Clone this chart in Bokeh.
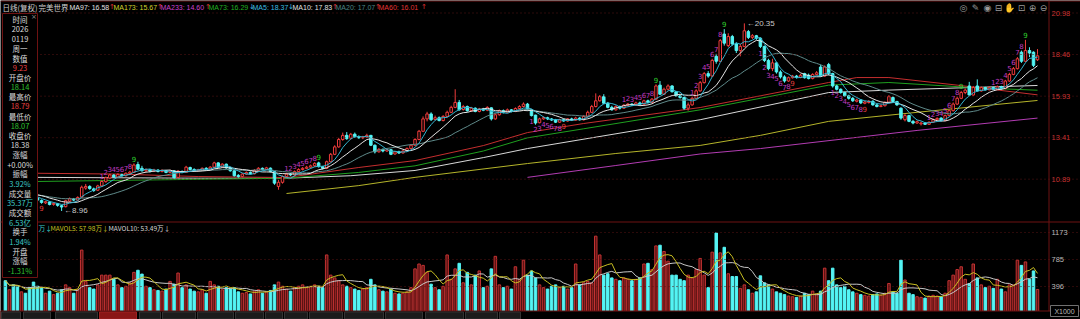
import numpy as np
import pandas as pd
from bokeh.plotting import figure
from bokeh.models import Range1d, Label, Span, BoxAnnotation, ColumnDataSource
from bokeh.core.properties import value
from bokeh.embed import file_html
from bokeh.resources import INLINE

# ---------------- data (daily bars, oldest first) ----------------
opens = [
    10.30, 10.12, 10.20, 10.05, 9.95, 10.00, 9.90, 9.82,
    9.75, 9.60, 9.45, 9.50, 9.36, 9.40, 9.28, 9.22, 9.56, 9.68,
    9.62, 9.80, 10.35, 10.45, 10.30, 10.22, 10.48, 10.74, 10.96, 11.14,
    11.02, 11.16, 11.10, 11.24, 11.30, 11.78, 11.55, 11.40, 11.46, 11.38,
    11.44, 11.36, 11.40, 11.30, 11.40, 11.00, 11.36, 11.30, 11.60, 11.48,
    11.40, 11.44, 11.55, 11.50, 11.62, 11.88, 11.64, 11.80, 11.58, 11.40,
    11.12, 11.06, 11.20, 11.30, 11.22, 11.42, 11.55, 11.48, 11.56, 11.35,
    10.45, 10.70, 11.05, 11.20, 11.15, 11.35, 11.48, 11.55, 11.62, 11.70,
    11.88, 11.65, 11.55, 11.95, 12.40, 12.85, 13.30, 13.55, 13.38, 13.62,
    13.48, 13.40, 13.45, 13.55, 12.95, 12.55, 12.70, 12.60, 12.68, 12.42,
    12.55, 12.48, 12.60, 12.75, 12.95, 13.30, 13.80, 14.55, 14.85, 14.52,
    14.62, 14.45, 14.70, 14.95, 15.25, 15.55, 15.12, 15.30, 15.05, 15.20,
    15.00, 15.15, 15.08, 15.22, 14.55, 14.80, 15.05, 14.95, 15.10, 15.00,
    15.18, 15.30, 15.45, 15.12, 14.78, 14.32, 14.55, 14.62, 14.55, 14.48,
    14.35, 14.50, 14.42, 14.55, 14.48, 14.60, 14.50, 14.70, 14.95, 15.30,
    15.65, 15.90, 15.50, 15.25, 15.10, 15.30, 15.20, 15.38, 15.45, 15.40,
    15.52, 15.45, 15.65, 15.55, 15.75, 16.60, 16.05, 16.35, 16.55, 16.20,
    15.95, 15.85, 15.20, 15.40, 15.80, 16.25, 16.75, 17.30, 17.15, 18.35,
    18.05, 19.70, 19.00, 19.55, 19.10, 18.70, 18.95, 19.85, 19.50, 19.60,
    19.45, 18.95, 18.10, 17.60, 17.95, 17.40, 17.10, 16.85, 17.05, 17.15,
    17.08, 17.30, 17.20, 17.00, 17.25, 17.70, 17.15, 17.85, 17.30, 16.55,
    16.35, 16.15, 15.95, 15.80, 15.62, 15.70, 15.50, 15.55, 15.62, 15.40,
    15.30, 15.35, 15.55, 15.85, 15.60, 15.20, 14.50, 14.75, 14.40, 14.30,
    14.25, 14.30, 14.22, 14.35, 14.50, 14.60, 14.45, 14.75, 15.05, 15.45,
    15.80, 16.15, 16.55, 16.00, 16.55, 16.25, 16.45, 16.32, 16.45, 16.35,
    16.50, 16.40, 16.85, 17.25, 17.60, 18.60, 18.05, 18.70, 18.60, 18.14,
]
closes = [
    10.15, 10.20, 10.05, 9.95, 10.00, 9.90, 9.82, 9.74,
    9.62, 9.48, 9.52, 9.35, 9.42, 9.30, 9.20, 9.58, 9.70, 9.62,
    9.78, 10.40, 10.45, 10.32, 10.20, 10.48, 10.75, 10.98, 11.15, 11.02,
    11.18, 11.10, 11.25, 11.32, 11.75, 11.50, 11.40, 11.48, 11.38, 11.45,
    11.36, 11.42, 11.30, 11.40, 10.98, 11.38, 11.32, 11.62, 11.48, 11.40,
    11.45, 11.55, 11.50, 11.62, 11.88, 11.62, 11.80, 11.58, 11.40, 11.10,
    11.05, 11.20, 11.30, 11.22, 11.42, 11.55, 11.48, 11.58, 11.35, 10.65,
    10.70, 11.05, 11.20, 11.15, 11.35, 11.48, 11.55, 11.62, 11.70, 11.85,
    11.65, 11.55, 11.95, 12.40, 12.85, 13.30, 13.55, 13.35, 13.62, 13.48,
    13.40, 13.45, 13.55, 12.95, 12.55, 12.70, 12.60, 12.68, 12.40, 12.55,
    12.48, 12.60, 12.75, 12.95, 13.30, 13.80, 14.55, 14.85, 14.50, 14.62,
    14.45, 14.70, 14.95, 15.25, 15.55, 15.10, 15.30, 15.05, 15.20, 15.00,
    15.15, 15.08, 15.25, 14.55, 14.80, 15.05, 14.95, 15.10, 15.00, 15.18,
    15.30, 15.45, 15.12, 14.75, 14.30, 14.55, 14.62, 14.55, 14.48, 14.35,
    14.50, 14.42, 14.55, 14.48, 14.60, 14.50, 14.70, 14.95, 15.30, 15.65,
    15.90, 15.50, 15.25, 15.10, 15.30, 15.20, 15.38, 15.45, 15.40, 15.52,
    15.45, 15.65, 15.55, 15.75, 16.55, 16.05, 16.35, 16.55, 16.20, 15.95,
    15.85, 15.20, 15.40, 15.80, 16.25, 16.75, 17.30, 17.15, 18.10, 18.05,
    19.30, 19.15, 19.55, 19.10, 18.70, 18.95, 19.90, 19.50, 19.60, 19.45,
    18.95, 18.10, 17.60, 17.95, 17.40, 17.10, 16.85, 17.05, 17.15, 17.08,
    17.20, 17.05, 17.00, 17.25, 17.35, 17.15, 17.70, 17.30, 16.55, 16.35,
    16.15, 15.95, 15.80, 15.65, 15.70, 15.52, 15.58, 15.62, 15.40, 15.30,
    15.35, 15.55, 15.90, 15.60, 15.40, 14.60, 14.75, 14.40, 14.30, 14.38,
    14.30, 14.22, 14.35, 14.50, 14.58, 14.45, 14.75, 15.05, 15.45, 15.80,
    16.15, 16.30, 16.00, 16.45, 16.25, 16.45, 16.32, 16.45, 16.35, 16.50,
    16.40, 16.85, 17.25, 17.60, 18.20, 18.05, 18.70, 18.55, 17.80, 18.38,
]
highs = [
    10.35, 10.26, 10.24, 10.10, 10.05, 10.04, 9.95, 9.86,
    9.85, 9.66, 9.58, 9.55, 9.48, 9.45, 9.32, 9.64, 9.78, 9.75,
    9.85, 10.50, 10.60, 10.52, 10.38, 10.55, 10.82, 11.05, 11.22, 11.20,
    11.25, 11.22, 11.30, 11.40, 11.85, 11.95, 11.70, 11.55, 11.52, 11.52,
    11.50, 11.48, 11.45, 11.46, 11.44, 11.45, 11.42, 11.70, 11.65, 11.55,
    11.52, 11.60, 11.62, 11.68, 11.95, 11.92, 11.86, 11.84, 11.62, 11.44,
    11.20, 11.26, 11.36, 11.36, 11.50, 11.62, 11.60, 11.64, 11.60, 11.38,
    10.85, 11.12, 11.28, 11.26, 11.42, 11.55, 11.62, 11.70, 11.78, 11.92,
    11.95, 11.70, 12.02, 12.48, 12.95, 13.40, 13.72, 13.75, 13.70, 13.72,
    13.55, 13.52, 13.65, 13.58, 13.00, 12.78, 12.75, 12.74, 12.72, 12.60,
    12.62, 12.66, 12.82, 13.02, 13.38, 13.88, 14.70, 14.98, 14.95, 14.75,
    14.70, 14.78, 15.05, 15.35, 16.35, 15.70, 15.40, 15.36, 15.28, 15.25,
    15.22, 15.22, 15.32, 15.25, 14.88, 15.12, 15.12, 15.18, 15.15, 15.25,
    15.38, 15.55, 15.52, 15.15, 14.80, 14.62, 14.70, 14.68, 14.60, 14.55,
    14.56, 14.56, 14.60, 14.62, 14.68, 14.66, 14.78, 15.05, 15.40, 16.10,
    16.00, 16.05, 15.58, 15.35, 15.38, 15.36, 15.45, 15.52, 15.50, 15.60,
    15.60, 15.72, 15.72, 15.82, 16.65, 16.85, 16.45, 16.65, 16.60, 16.25,
    16.02, 15.90, 15.55, 15.90, 16.35, 16.85, 17.40, 17.45, 18.20, 18.50,
    19.40, 20.00, 19.75, 19.65, 19.20, 19.10, 20.35, 19.95, 19.70, 19.65,
    19.50, 19.00, 18.20, 18.20, 18.00, 17.50, 17.20, 17.12, 17.22, 17.22,
    17.28, 17.35, 17.30, 17.32, 17.45, 17.85, 17.80, 17.95, 17.35, 16.62,
    16.40, 16.20, 16.02, 15.88, 15.78, 15.75, 15.65, 15.70, 15.68, 15.48,
    15.42, 15.62, 16.00, 15.92, 15.65, 15.25, 14.85, 14.80, 14.48, 14.45,
    14.38, 14.35, 14.40, 14.58, 14.65, 14.65, 14.82, 15.12, 15.55, 15.90,
    16.25, 16.40, 16.80, 16.55, 16.95, 16.52, 16.50, 16.52, 16.50, 16.58,
    16.56, 16.92, 17.35, 17.70, 18.30, 18.70, 19.35, 18.90, 18.65, 18.79,
]
lows = [
    10.10, 10.05, 10.00, 9.90, 9.88, 9.85, 9.78, 9.70,
    9.55, 9.40, 9.38, 9.30, 9.28, 9.22, 8.96, 9.18, 9.50, 9.55,
    9.58, 9.76, 10.25, 10.25, 10.12, 10.18, 10.42, 10.68, 10.90, 10.95,
    10.98, 11.04, 11.05, 11.18, 11.28, 11.45, 11.35, 11.32, 11.30, 11.33,
    11.30, 11.30, 11.25, 11.26, 10.92, 10.98, 11.26, 11.28, 11.42, 11.35,
    11.36, 11.40, 11.45, 11.46, 11.58, 11.58, 11.60, 11.52, 11.35, 11.05,
    10.98, 11.00, 11.15, 11.18, 11.18, 11.38, 11.42, 11.44, 11.30, 10.55,
    10.25, 10.62, 11.00, 11.08, 11.10, 11.30, 11.42, 11.50, 11.55, 11.64,
    11.60, 11.48, 11.50, 11.90, 12.35, 12.80, 13.22, 13.28, 13.30, 13.40,
    13.35, 13.32, 13.40, 12.90, 12.45, 12.50, 12.52, 12.55, 12.35, 12.38,
    12.42, 12.44, 12.55, 12.70, 12.90, 13.25, 13.75, 14.40, 14.42, 14.45,
    14.40, 14.40, 14.65, 14.90, 15.20, 15.05, 15.05, 14.98, 14.98, 14.95,
    14.95, 15.02, 15.02, 14.45, 14.50, 14.75, 14.88, 14.90, 14.95, 14.96,
    15.12, 15.25, 15.05, 14.70, 14.20, 14.28, 14.50, 14.48, 14.42, 14.30,
    14.30, 14.38, 14.38, 14.42, 14.44, 14.45, 14.45, 14.65, 14.90, 15.25,
    15.60, 15.45, 15.20, 15.05, 15.05, 15.12, 15.15, 15.32, 15.35, 15.36,
    15.40, 15.40, 15.50, 15.50, 15.70, 16.00, 16.00, 16.28, 16.15, 15.90,
    15.78, 15.10, 15.05, 15.35, 15.75, 16.20, 16.70, 17.05, 17.10, 17.90,
    18.00, 19.00, 18.90, 19.00, 18.55, 18.35, 18.90, 19.40, 19.40, 19.35,
    18.85, 18.00, 17.50, 17.45, 17.30, 17.00, 16.75, 16.80, 17.00, 17.00,
    17.02, 17.00, 16.95, 16.95, 17.20, 17.10, 17.10, 17.20, 16.45, 16.28,
    16.08, 15.90, 15.72, 15.58, 15.55, 15.45, 15.44, 15.48, 15.35, 15.25,
    15.26, 15.30, 15.50, 15.52, 15.35, 14.50, 14.40, 14.35, 14.22, 14.25,
    14.15, 14.18, 14.18, 14.30, 14.45, 14.40, 14.42, 14.70, 15.00, 15.40,
    15.75, 16.05, 15.95, 15.95, 16.20, 16.20, 16.28, 16.28, 16.30, 16.30,
    16.32, 16.35, 16.80, 17.20, 17.55, 17.95, 18.00, 18.30, 17.70, 18.07,
]
volumes = [  # x1000
    480, 350, 420, 400, 320, 300, 380, 460,
    400, 380, 300, 330, 280, 300, 350, 420, 380, 300,
    350, 920, 470, 380, 360, 420, 560, 560, 560, 500,
    420, 380, 400, 450, 600, 630, 575, 400, 380, 350,
    340, 330, 360, 470, 430, 590, 380, 420, 360, 330,
    320, 350, 300, 470, 420, 400, 350, 380, 360, 380,
    320, 300, 310, 290, 330, 350, 300, 320, 340, 420,
    460, 400, 360, 330, 380, 400, 420, 380, 400, 420,
    400, 380, 850, 560, 520, 480, 420, 400, 380, 360,
    340, 360, 380, 500, 420, 350, 330, 320, 360, 300,
    290, 300, 320, 380, 650, 720, 700, 600, 430, 380,
    350, 400, 850, 500, 650, 730, 450, 600, 420, 560,
    620, 380, 400, 650, 830, 420, 380, 400, 360, 680,
    500, 775, 560, 620, 520, 420, 380, 360, 400, 420,
    380, 400, 360, 380, 720, 420, 450, 470, 450, 1120,
    850, 560, 580, 520, 500, 480, 520, 500, 480, 500,
    520, 720, 730, 640, 980, 990, 900, 760, 560, 560,
    500, 480, 560, 520, 640, 800, 560, 380, 890, 1165,
    880, 960, 580, 540, 540, 370, 420, 350, 300, 320,
    550, 450, 420, 360, 320, 300, 280, 260, 250, 240,
    260, 300, 280, 330, 290, 330, 660, 480, 660, 420,
    380, 400, 350, 320, 300, 280, 270, 260, 280, 290,
    270, 300, 440, 320, 300, 775, 490, 300, 280, 250,
    240, 230, 260, 270, 260, 250, 300, 480, 560, 640,
    680, 500, 440, 720, 520, 420, 380, 400, 370, 500,
    360, 320, 420, 420, 775, 700, 750, 500, 620, 354,
]

# long moving averages (bar number, value)
ma60_bars = [0, 8, 28, 48, 70, 88, 102, 119, 130, 144, 173, 205, 212, 220, 237, 257]
ma60_vals = [11.28, 11.25, 11.20, 11.05, 10.99, 11.60, 12.02, 12.93, 13.72, 14.27, 15.24, 16.76, 17.06, 17.06, 16.60, 16.01]
ma73_bars = [0, 8, 38, 70, 88, 102, 119, 130, 144, 173, 205, 220, 241, 257]
ma73_vals = [10.72, 10.75, 10.85, 10.95, 11.30, 11.70, 12.60, 13.40, 13.95, 15.10, 16.60, 16.76, 16.45, 16.29]
ma97_bars = [0, 8, 48, 70, 86, 102, 119, 130, 173, 205, 220, 257]
ma97_vals = [11.00, 11.00, 10.95, 10.95, 11.10, 11.42, 12.20, 12.75, 14.50, 16.15, 16.30, 16.58]
ma173_bars = [70, 88, 102, 130, 152, 173, 188, 205, 227, 257]
ma173_vals = [10.02, 10.50, 11.00, 11.84, 12.45, 12.94, 13.55, 14.40, 14.95, 15.67]
ma233_bars = [130, 152, 173, 188, 227, 257]
ma233_vals = [11.00, 11.72, 12.42, 12.75, 13.85, 14.60]

# TD-sequence counts: first bar of each 1..9 run
td_up_starts = [24, 70, 154, 171, 230, 246]
td_dn_starts = [131, 188, 206]
td_dn_single9 = [9]

price_ticks = [20.98, 18.46, 15.93, 13.41, 10.89]
vol_ticks = [1173, 785, 396]

header_items = [
    ("MA97: 16.58", "↑"), ("MA173: 15.67", "↑"), ("MA233: 14.60", "↑"), ("MA73: 16.29", "↓"),
    ("MA5: 18.37", "↓"), ("MA10: 17.83", "↑"), ("MA20: 17.07", "↑"), ("MA60: 16.01", "↑"),
]
info_rows = ["时间", "2026", "0119", "周一", "数值", "9.23", "开盘价", "18.14", "最高价", "18.79",
             "最低价", "18.07", "收盘价", "18.38", "涨幅", "+0.00%", "振幅", "3.92%", "成交量",
             "35.37万", "成交额", "6.53亿", "换手", "1.94%", "开盘", "涨幅", "-1.31%"]

# ---------------- layout / style ----------------
W, H = 1080, 319
X0_PX, DX_PX = 4.9, 4.016          # pixel of first bar, pixels per bar
P_TOP, P_Y, P_SCALE = 20.98, 12.5, 16.47   # price 20.98 at y=12.5px, px per unit
V_ZERO_PX, V_SCALE = 313.6, 14.37           # volume zero line px, units per px

def xd(xpx): return (xpx - X0_PX) / DX_PX
def yd(ypx): return P_TOP - (ypx - P_Y) / P_SCALE
def py_px(pr): return P_Y + (P_TOP - pr) * P_SCALE
def vy_px(v): return V_ZERO_PX - v / V_SCALE

RED = "#f03c3c"
CYAN = "#54f4f4"
FRAME = "#6e1212"
GRID = "#5a1414"
CJK = "Noto Sans CJK SC"
LAT = "Liberation Sans"

p = figure(width=W, height=H, output_backend="svg", toolbar_location=None,
           x_range=Range1d(xd(0), xd(W)), y_range=Range1d(yd(H), yd(0)),
           x_axis_location=None, y_axis_location=None, min_border=0,
           background_fill_color="black", border_fill_color="black", outline_line_color=None)
p.extra_y_ranges = {"vol": Range1d(-(H - V_ZERO_PX) * V_SCALE, V_ZERO_PX * V_SCALE)}
p.grid.visible = False

# grid lines
for t in price_ticks:
    p.add_layout(Span(location=t, dimension="width", line_color=GRID, line_dash="1 3", line_width=1))
for t in vol_ticks:
    p.add_layout(Span(location=yd(vy_px(t)), dimension="width", line_color=GRID, line_dash="1 3", line_width=1))

o = np.array(opens); c = np.array(closes); h = np.array(highs); l = np.array(lows); v = np.array(volumes, float)
N = len(c)
bars = np.arange(N)
up = c >= o
dn = ~up

# long MAs
p.line(ma233_bars, ma233_vals, line_color="#b23cb2", line_width=1)
p.line(ma173_bars, ma173_vals, line_color="#b4b42a", line_width=1)
p.line(ma97_bars, ma97_vals, line_color="#d8d8d8", line_width=1)
p.line(ma73_bars, ma73_vals, line_color="#1f9f1f", line_width=1)
p.line(ma60_bars, ma60_vals, line_color="#c42e2e", line_width=1)

# candles
su = ColumnDataSource(dict(x=bars[up], o=o[up], c=c[up], h=h[up], l=l[up]))
sd = ColumnDataSource(dict(x=bars[dn], o=o[dn], c=c[dn], h=h[dn], l=l[dn]))
p.segment(x0="x", y0="l", x1="x", y1="h", source=su, line_color=RED, line_width=1)
p.vbar(x="x", top="c", bottom="o", width=0.62, source=su, fill_color="black", line_color=RED, line_width=1)
p.segment(x0="x", y0="l", x1="x", y1="h", source=sd, line_color=CYAN, line_width=1)
p.vbar(x="x", top="o", bottom="c", width=0.62, source=sd, fill_color=CYAN, line_color=CYAN, line_width=1)

# short MAs from closes
cs = pd.Series(c)
p.line(bars, cs.rolling(20, min_periods=1).mean(), line_color="#5f8a8a", line_width=1)
p.line(bars, cs.rolling(10, min_periods=1).mean(), line_color="#e6e6e6", line_width=1)
p.line(bars, cs.rolling(5, min_periods=1).mean(), line_color="#34b4d0", line_width=1)

# volume
p.vbar(x=bars[up], top=v[up], bottom=0, width=0.62, y_range_name="vol",
       fill_color="#5c1212", line_color="#c23232", line_width=1)
p.vbar(x=bars[dn], top=v[dn], bottom=0, width=0.62, y_range_name="vol",
       fill_color=CYAN, line_color=CYAN, line_width=1)
vs = pd.Series(v)
p.line(bars, vs.rolling(10, min_periods=1).mean(), y_range_name="vol", line_color="#c8c8c8", line_width=1)
p.line(bars, vs.rolling(5, min_periods=1).mean(), y_range_name="vol", line_color="#c8bf22", line_width=1)

# TD sequence digits
ux, uy, ut, uc = [], [], [], []
for s in td_up_starts:
    for k in range(9):
        i = s + k
        if i < N:
            ux.append(i); uy.append(h[i] + 0.1); ut.append(str(k + 1))
            uc.append("#c23cc2" if k < 8 else "#2fd02f")
p.text(x=ux, y=uy, text=ut, text_color=uc, text_font=value("DejaVu Sans"),
       text_font_size=value("7px"), text_align="center", text_baseline="bottom")
dx_, dy_, dt_, dc_ = [], [], [], []
for s in td_dn_starts:
    for k in range(9):
        i = s + k
        dx_.append(i); dy_.append(l[i] - 0.1); dt_.append(str(k + 1))
        dc_.append("#c23cc2" if k < 8 else "#e23c3c")
for i in td_dn_single9:
    dx_.append(i); dy_.append(l[i] - 0.1); dt_.append("9"); dc_.append("#e23c3c")
p.text(x=dx_, y=dy_, text=dt_, text_color=dc_, text_font=value("DejaVu Sans"),
       text_font_size=value("7px"), text_align="center", text_baseline="top")

# extreme labels
imax = int(np.argmax(h)); imin = int(np.argmin(l))
p.text(x=[imax + 0.6, imin + 0.6], y=[h[imax], l[imin]],
       text=[f"←{h[imax]:.2f}", f"←{l[imin]:.2f}"], text_color="#c8c8c8",
       text_font=value(LAT), text_font_size=value("8px"), text_align="left", text_baseline="middle")

# frame lines
p.add_layout(Span(location=yd(0.5), dimension="width", line_color=FRAME, line_width=1))
p.add_layout(Span(location=yd(221.5), dimension="width", line_color=FRAME, line_width=1))
p.add_layout(Span(location=xd(1048.5), dimension="height", line_color=FRAME, line_width=1))

# bottom tab strip
p.add_layout(BoxAnnotation(left=xd(0), right=xd(W), bottom=yd(H + 2), top=yd(310.5),
                           fill_color="black", fill_alpha=1, line_color=FRAME, line_alpha=1))
tabs = [(1, 20), (23, 50), (55, 97), (99, 136), (139, 160), (162, 195), (197, 233), (235, 263),
        (265, 282), (284, 307), (309, 342), (344, 383), (385, 422), (425, 463), (465, 497), (499, 520)]
for a, b in tabs:
    red_tab = (a == 99)
    p.add_layout(BoxAnnotation(left=xd(a), right=xd(b), bottom=yd(318.5), top=yd(311.5),
                               fill_color="#8a1616" if red_tab else "#1b1b1b", fill_alpha=1,
                               line_color="#a02020" if red_tab else "#333333", line_alpha=1))

# info box
p.add_layout(BoxAnnotation(left=xd(2), right=xd(37), bottom=yd(277), top=yd(13),
                           fill_color="black", fill_alpha=1, line_color=FRAME, line_alpha=1, line_width=1))
# X1000 box
p.add_layout(BoxAnnotation(left=xd(1050), right=xd(1078), bottom=yd(316), top=yd(305),
                           fill_color="black", fill_alpha=1, line_color="#707070", line_alpha=1, line_width=1))

def lab(x, ytop, text, color, size=7.5, align="left", font=CJK):
    p.add_layout(Label(x=x, y=H - ytop, x_units="screen", y_units="screen", text=text,
                       text_color=color, text_font_size=f"{size}px", text_align=align,
                       text_baseline="middle", text_font=font))

# header
lab(2, 6.8, "日线(复权)", "#cfcfcf")
lab(38, 6.8, "完美世界", "#cfcfcf")
hx = [69, 113, 160, 208, 252, 292, 335, 378]
ax = [108.5, 156.5, 204.5, 248.5, 287.5, 331.5, 374.5, 420.5]
hcol = ["#e0e0e0", "#d2d22c", "#cc44cc", "#22b022", "#3cbce0", "#e0e0e0", "#4d8585", "#e23434"]
for (t, arr), x0, x1, col in zip(header_items, hx, ax, hcol):
    lab(x0, 6.8, t, col, size=7, font=LAT)
    lab(x1, 6.8, arr, "#e03030" if arr == "↑" else "#40b8e0", size=7, font="DejaVu Sans")

# toolbar icons
for x0, g in zip([963, 975, 987, 998, 1009, 1021, 1032, 1043], ["◎", "✎", "◉", "⊟", "✋", "⊡", "⊕", "⊖"]):
    lab(x0, 7, g, "#9a9a9a", size=9, align="center", font="DejaVu Sans")

# info panel rows
row_col = {5: "#e84040", 7: "#2fc02f", 9: "#e84040", 11: "#2fc02f", 17: "#3cc8c8",
           19: "#3cc8c8", 21: "#3cc8c8", 23: "#3cc8c8", 26: "#2fc02f"}
for k, t in enumerate(info_rows):
    lab(19.5, 19 + k * 9.654, t, row_col.get(k, "#dcdcdc"), size=7.5, align="center")
lab(33.5, 16.5, "×", "#8a8a8a", size=7, align="center", font="DejaVu Sans")

# volume header
lab(38, 227, "万↓", "#3cc8c8", size=6.8)
lab(50, 227, "MAVOL5: 57.98万↓", "#c8c020", size=6.6)
lab(108, 227, "MAVOL10: 53.49万↓", "#d8d8d8", size=6.6)

# right axis
for t in price_ticks:
    lab(1051, py_px(t), f"{t:.2f}", "#c83232", size=7.5, font=LAT)
for t in vol_ticks:
    lab(1051, vy_px(t), f"{t}", "#b8b8b8", size=7.5, font=LAT)
lab(1064, 310.5, "X1000", "#b8b8b8", size=7, align="center", font=LAT)

open("out.html", "w").write(file_html(p, INLINE))
